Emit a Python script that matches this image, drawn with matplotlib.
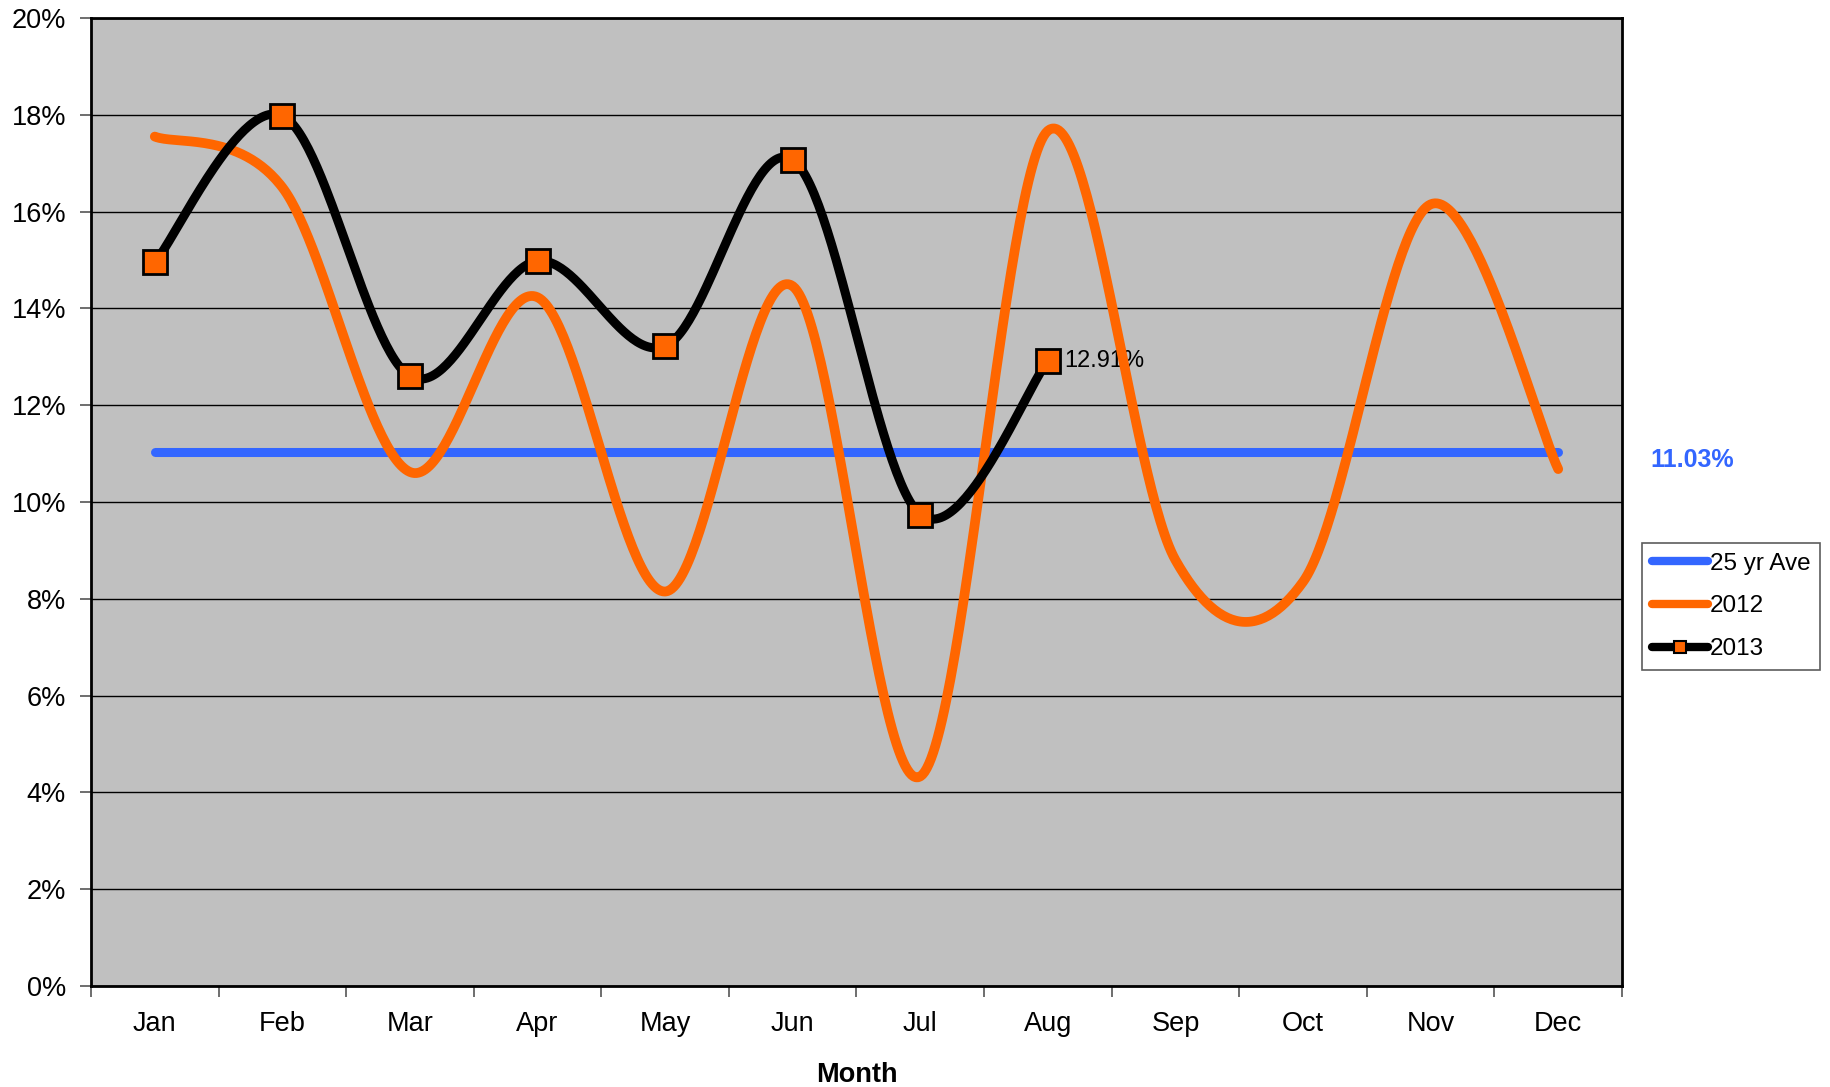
import numpy as np
import matplotlib
matplotlib.use("Agg")
import matplotlib.pyplot as plt
from matplotlib.ticker import FixedLocator, PercentFormatter
from matplotlib.lines import Line2D

plt.rcParams['font.family'] = ['Liberation Sans', 'DejaVu Sans']

months = ["Jan", "Feb", "Mar", "Apr", "May", "Jun", "Jul", "Aug", "Sep", "Oct", "Nov", "Dec"]
ave_25yr = 11.03
y2012 = [17.55, 16.5, 10.62, 14.23, 8.15, 14.46, 4.33, 17.67, 8.8, 8.35, 16.15, 10.68]
y2013 = [14.95, 17.98, 12.6, 14.98, 13.22, 17.07, 9.74, 12.91]
yticks = [0, 2, 4, 6, 8, 10, 12, 14, 16, 18, 20]

ORANGE = "#FF6600"
BLUE = "#3366FF"
BG = "#C0C0C0"


def smooth(xs, ys, n=60):
    pts = np.column_stack([xs, ys]).astype(float)
    out = [pts[0]]
    m = len(pts)
    t = np.linspace(0, 1, n)[1:, None]
    for i in range(m - 1):
        p0 = pts[i - 1] if i > 0 else pts[i]
        p1 = pts[i]
        p2 = pts[i + 1]
        p3 = pts[i + 2] if i + 2 < m else pts[i + 1]
        c1 = p1 + (p2 - p0) / 6.0
        c2 = p2 - (p3 - p1) / 6.0
        seg = ((1 - t) ** 3) * p1 + 3 * ((1 - t) ** 2) * t * c1 + 3 * (1 - t) * t ** 2 * c2 + t ** 3 * p2
        out.extend(seg)
    out = np.array(out)
    return out[:, 0], out[:, 1]


fig = plt.figure(figsize=(18.3, 10.87), dpi=100)
ax = fig.add_axes([91 / 1830, 1 - 986 / 1087, (1622 - 91) / 1830, (986 - 18) / 1087])
ax.set_facecolor(BG)

x12 = np.arange(len(months))
x13 = np.arange(len(y2013))

ax.plot([0, len(months) - 1], [ave_25yr, ave_25yr], color=BLUE, lw=6.5, solid_capstyle='round', zorder=3)
sx, sy = smooth(x12, y2012)
ax.plot(sx, sy, color=ORANGE, lw=7, solid_capstyle='round', zorder=4)
sx, sy = smooth(x13, y2013)
ax.plot(sx, sy, color="black", lw=6.5, solid_capstyle='round', zorder=5)
ax.plot(x13, y2013, ls='none', marker='s', ms=17.5, mfc=ORANGE, mec='black', mew=2, zorder=6)

ax.annotate(f"{y2013[-1]:.2f}%", (x13[-1], y2013[-1]), xytext=(12, 0), textcoords='offset points',
            va='center', ha='left', fontsize=17)

ax.set_xlim(-0.5, len(months) - 0.5)
ax.set_ylim(0, 20)
ax.set_yticks(yticks)
ax.yaxis.set_major_formatter(PercentFormatter(decimals=0))
ax.yaxis.grid(True, color='black', lw=1.0)
ax.set_axisbelow(True)

ax.xaxis.set_major_locator(FixedLocator(np.arange(-0.5, len(months), 1.0)))
ax.xaxis.set_major_formatter(plt.NullFormatter())
ax.xaxis.set_minor_locator(FixedLocator(x12))
ax.set_xticklabels(months, minor=True)
ax.tick_params(axis='x', which='minor', length=0, labelsize=19.5, pad=18)
ax.tick_params(axis='x', which='major', length=8, width=1.2, color='#555555')
ax.tick_params(axis='y', length=8, width=1.2, labelsize=19.5, pad=10, color='#555555')

for s in ax.spines.values():
    s.set_linewidth(2)
    s.set_color('black')

ax.set_xlabel("Month", fontsize=19.5, fontweight='bold', labelpad=18)

fig.text(1692 / 1830, 1 - 460 / 1087, f"{ave_25yr:.2f}%", color=BLUE, fontsize=18, fontweight='bold',
         ha='center', va='center')

handles = [
    Line2D([], [], color=BLUE, lw=6, solid_capstyle='round'),
    Line2D([], [], color=ORANGE, lw=6, solid_capstyle='round'),
    Line2D([], [], color='black', lw=6, solid_capstyle='round', marker='s', ms=9, mfc=ORANGE, mec='black', mew=1.5),
]
leg = fig.legend(handles, ["25 yr Ave", "2012", "2013"], loc='upper left',
                 bbox_to_anchor=(1642 / 1830, 1 - 543 / 1087), fontsize=17.5, frameon=True, fancybox=False,
                 edgecolor='#333333', handlelength=2.3, handletextpad=0.1, borderpad=0.4,
                 labelspacing=0.85, borderaxespad=0)
leg.get_frame().set_linewidth(1.2)

fig.savefig("out.png", dpi=100)
